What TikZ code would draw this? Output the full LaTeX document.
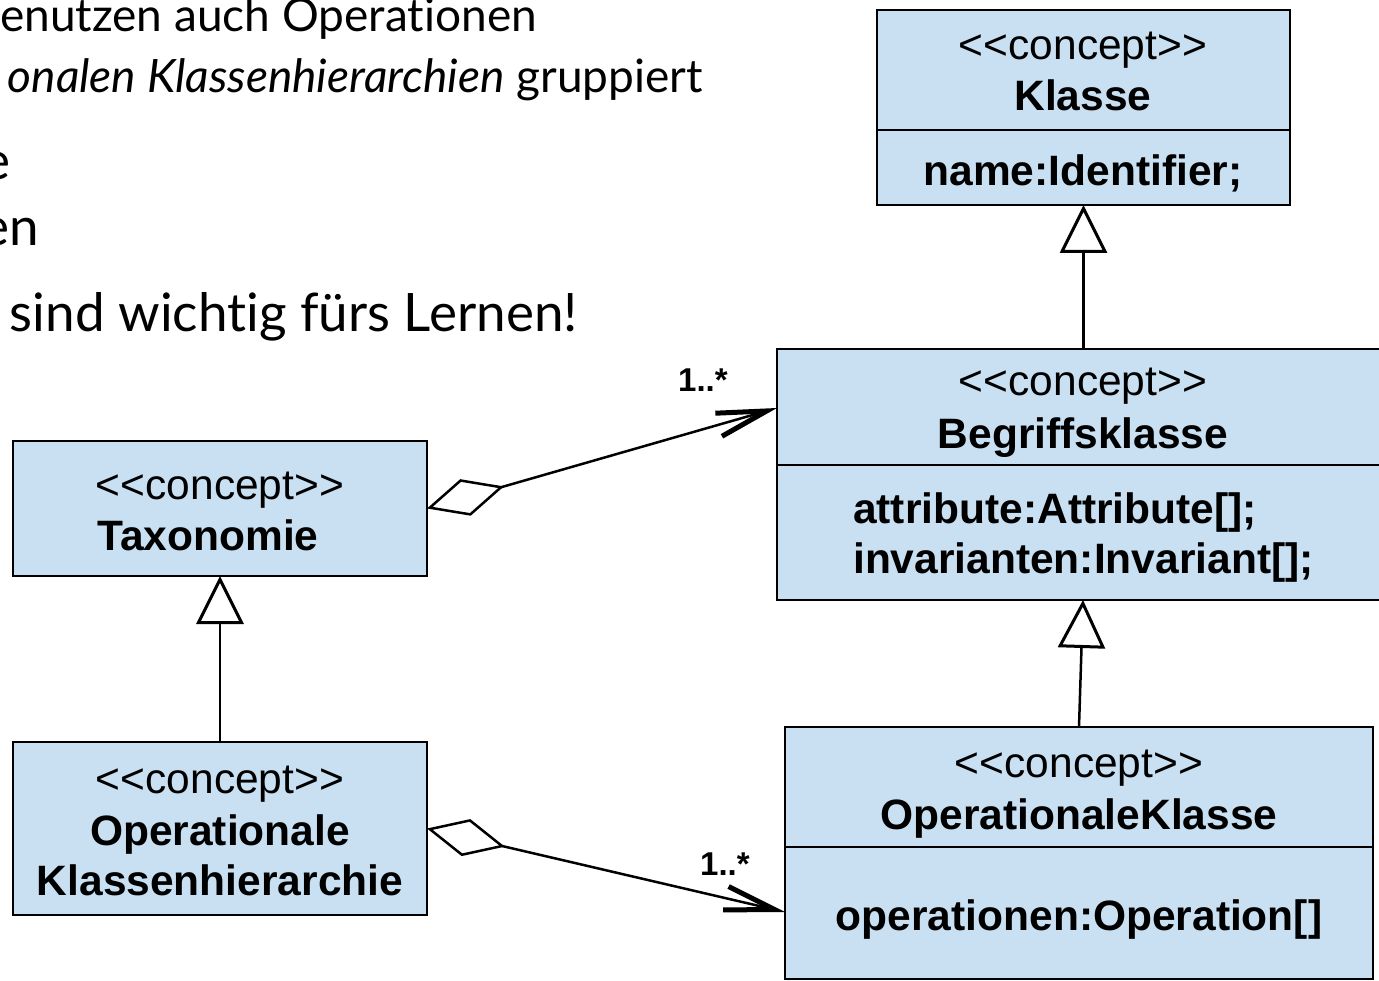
\documentclass[tikz,border=0pt]{standalone}
\usepackage{fontspec}
\newfontfamily\boxfont{Liberation Sans}[Ligatures=TeXOff]
\newfontfamily\latofont{Lato}[Ligatures=NoCommon]
\usetikzlibrary{arrows.meta,calc}
\definecolor{umlblue}{RGB}{201,224,242}
\tikzset{
  umlbox/.style={draw, line width=2pt, fill=umlblue, inner sep=0pt, outer sep=0pt},
  reg/.style={font=\boxfont\fontsize{42.5}{50}\selectfont, anchor=base, inner sep=0pt},
  bld/.style={font=\boxfont\bfseries\fontsize{42.5}{50}\selectfont, anchor=base, inner sep=0pt},
  mult/.style={font=\boxfont\bfseries\fontsize{33}{40}\selectfont, anchor=base west, inner sep=0pt},
  slidesmall/.style={font=\latofont\fontsize{46}{55}\selectfont, anchor=base east, inner sep=0pt},
  slidebig/.style={font=\latofont\fontsize{53}{64}\selectfont, anchor=base east, inner sep=0pt},
  agg/.style={line width=2.5pt, {Diamond[open,length=80pt,width=38pt,line width=2.5pt]}-{Straight Barb[length=50pt,width=24pt,line width=5pt]}},
  gen/.style={line width=2.5pt, -{Triangle[open,length=48pt,width=47pt,line width=3pt]}},
}
\begin{document}
\begin{tikzpicture}[x=1pt,y=-1pt]
\useasboundingbox (0,0) rectangle (1379,981);
% slide text
\node[slidesmall] (t1) at (537,32) {enutzen auch Operationen};
\node[slidesmall] (t2) at (703,93) {\itshape onalen Klassenhierarchien\upshape{} gruppiert};
\node[slidebig] (t3) at (11,180) {e};
\node[slidebig] (t4) at (39,246) {en};
\node[slidebig] (t5) at (578,332) {sind wichtig fürs Lernen!};
% boxes
\node[umlbox, minimum width=413pt, minimum height=195pt] (klasse) at (1083.5,107.5) {};
\node[umlbox, minimum width=612pt, minimum height=251pt] (begriff) at (1083,474.5) {};
\node[umlbox, minimum width=414pt, minimum height=135pt] (tax) at (220,508.5) {};
\node[umlbox, minimum width=414pt, minimum height=173pt] (opkh) at (220,828.5) {};
\node[umlbox, minimum width=588pt, minimum height=252pt] (opk) at (1079,853) {};
% dividers
\draw[line width=2pt] (klasse.west |- 0,130) -- (klasse.east |- 0,130);
\draw[line width=2pt] (begriff.west |- 0,465) -- (begriff.east |- 0,465);
\draw[line width=2pt] (opk.west |- 0,847) -- (opk.east |- 0,847);
% texts
\node[reg] (k1) at (1083,60) {<<concept>>};
\node[bld] (k2) at (1083,111) {Klasse};
\node[bld] (k3) at (1083,186) {name:Identifier;};
\node[reg] (b1) at (1083,396) {<<concept>>};
\node[bld] (b2) at (1083,449) {Begriffsklasse};
\node[bld, anchor=base west] (b3) at (853,523) {attribute:Attribute[];};
\node[bld, anchor=base west] (b4) at (853,573) {invarianten:Invariant[];};
\node[reg] (x1) at (220,499) {<<concept>>};
\node[bld] (x2) at (208,550) {Taxonomie};
\node[reg] (h1) at (220,793) {<<concept>>};
\node[bld] (h2) at (220,845) {Operationale};
\node[bld] (h3) at (220,895) {Klassenhierarchie};
\node[reg] (o1) at (1079,777) {<<concept>>};
\node[bld] (o2) at (1079,829) {OperationaleKlasse};
\node[bld] (o3) at (1079,930) {operationen:Operation[]};
% connectors
\coordinate (bw1) at ($(begriff.north west)+(0,59)$);
\coordinate (ow1) at ($(opk.north west)+(0,185)$);
\draw[agg] (tax.east) -- (bw1);
\draw[agg] (opkh.east) -- (ow1);
\draw[gen] (begriff.north -| klasse.south) -- (klasse.south);
\draw[gen] (opk.north) -- (begriff.south);
\draw[gen] (opkh.north) -- (tax.south);
\node[mult] (m1) at (678,392) {1..*};
\node[mult] (m2) at (700,875) {1..*};
\end{tikzpicture}
\end{document}
